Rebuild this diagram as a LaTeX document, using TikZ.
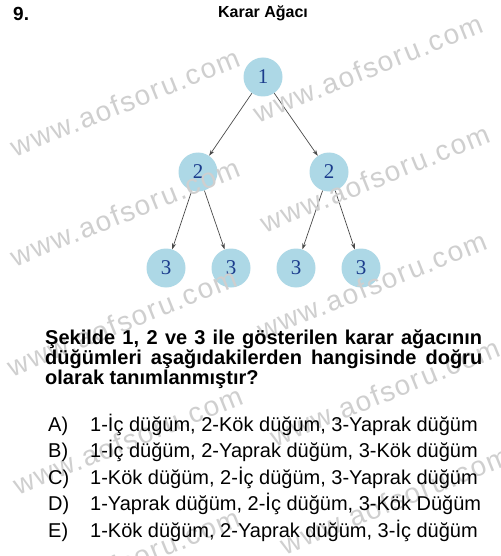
\documentclass[tikz,border=0pt]{standalone}
\usepackage{fontspec}
\setmainfont{Liberation Sans}
\newfontfamily\serifnum{Liberation Serif}
\newfontfamily\wmfont[LetterSpace=6]{Liberation Sans}
\usetikzlibrary{arrows.meta}
\definecolor{nodeblue}{HTML}{ADD8E6}
\definecolor{numblue}{HTML}{1B3C8C}
\definecolor{wmgray}{HTML}{CFCFCF}
\definecolor{edgegray}{HTML}{4A4A4A}
\begin{document}
\begin{tikzpicture}[x=1pt,y=-1pt,
  tnode/.style={circle, fill=nodeblue, minimum size=39pt, inner sep=0pt,
    font=\serifnum\fontsize{21}{21}\selectfont, text=numblue},
  edge/.style={draw=edgegray, line width=0.7pt, -{Stealth[length=6pt,width=4pt]}},
  wm/.style={text=wmgray, font=\wmfont\fontsize{28}{28}\selectfont, rotate=22, inner sep=0pt},
  qline/.style={anchor=base west, inner sep=0pt, font=\bfseries\fontsize{20}{20}\selectfont},
  optlabel/.style={anchor=base west, inner sep=0pt, font=\fontsize{20}{20}\selectfont},
  opttext/.style={anchor=base west, inner sep=0pt, font=\fontsize{20}{20}\selectfont}
]
\useasboundingbox (0,0) rectangle (500,556);
\fill[white] (0,0) rectangle (500,556);

% tree
\node[tnode] (r) at (263,77) {1};
\node[tnode] (a) at (198,172) {2};
\node[tnode] (b) at (329,172) {2};
\node[tnode] (a1) at (166,268) {3};
\node[tnode] (a2) at (231,268) {3};
\node[tnode] (b1) at (296,268) {3};
\node[tnode] (b2) at (361,268) {3};
\draw[edge] (r) -- (a);
\draw[edge] (r) -- (b);
\draw[edge] (a) -- (a1);
\draw[edge] (a) -- (a2);
\draw[edge] (b) -- (b1);
\draw[edge] (b) -- (b2);

% watermarks
\node[wm] (w1) at (125,102) {www.aofsoru.com};
\node[wm] (w2) at (368,68) {www.aofsoru.com};
\node[wm] (w3) at (125,212) {www.aofsoru.com};
\node[wm] (w4) at (375,178) {www.aofsoru.com};
\node[wm] (w5) at (122,322) {www.aofsoru.com};
\node[wm] (w6) at (372,285) {www.aofsoru.com};
\node[wm] (w7) at (128,440) {www.aofsoru.com};
\node[wm] (w8) at (385,392) {www.aofsoru.com};
\node[wm] (w9) at (125,562) {www.aofsoru.com};
\node[wm] (w10) at (395,500) {www.aofsoru.com};

% header
\node[anchor=base west, inner sep=0pt, font=\bfseries\fontsize{19}{19}\selectfont] (num) at (13,21) {9.};
\node[anchor=base, inner sep=0pt, font=\bfseries\fontsize{16}{16}\selectfont] (title) at (263,18) {Karar Ağacı};

% question
\node[qline] (q1) at (45,344) {\makebox[437pt][s]{Şekilde 1, 2 ve 3 ile gösterilen karar ağacının}};
\node[qline] (q2) at (45,364) {\makebox[437pt][s]{düğümleri aşağıdakilerden hangisinde doğru}};
\node[qline] (q3) at (45,384) {olarak tanımlanmıştır?};

% options
\node[optlabel] (la) at (48,431) {A)};
\node[opttext] (ta) at (90,431) {1-İç düğüm, 2-Kök düğüm, 3-Yaprak düğüm};
\node[optlabel] (lb) at (48,457.5) {B)};
\node[opttext] (tb) at (90,457.5) {1-İç düğüm, 2-Yaprak düğüm, 3-Kök düğüm};
\node[optlabel] (lc) at (48,484) {C)};
\node[opttext] (tc) at (90,484) {1-Kök düğüm, 2-İç düğüm, 3-Yaprak düğüm};
\node[optlabel] (ld) at (48,510.5) {D)};
\node[opttext] (td) at (90,510.5) {1-Yaprak düğüm, 2-İç düğüm, 3-Kök Düğüm};
\node[optlabel] (le) at (48,537) {E)};
\node[opttext] (te) at (90,537) {1-Kök düğüm, 2-Yaprak düğüm, 3-İç düğüm};
\end{tikzpicture}
\end{document}
